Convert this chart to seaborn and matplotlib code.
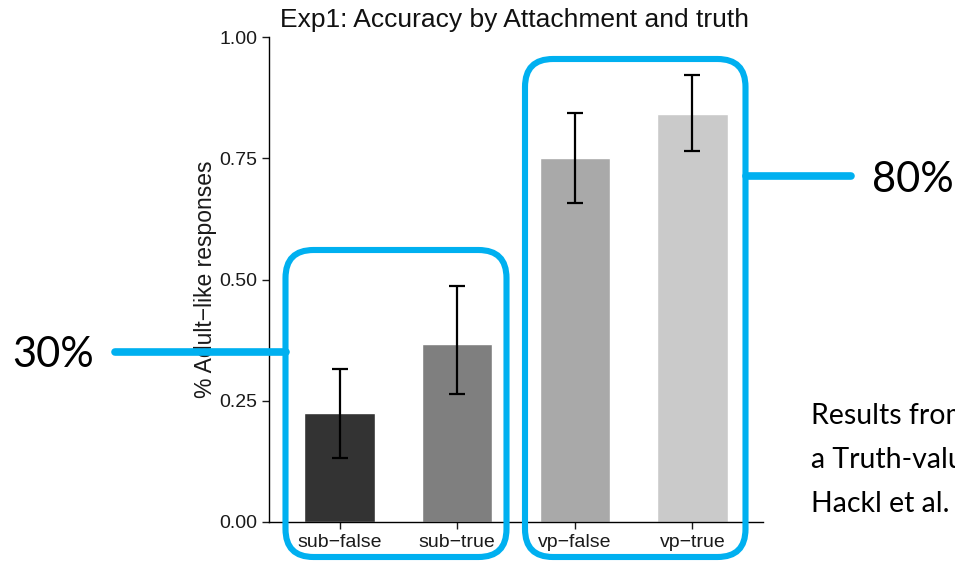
import matplotlib.pyplot as plt
import pandas as pd
import seaborn as sns
from matplotlib.patches import FancyBboxPatch
from matplotlib.lines import Line2D
from matplotlib.transforms import IdentityTransform

# data
conditions = ['sub\u2212false', 'sub\u2212true', 'vp\u2212false', 'vp\u2212true']
accuracy = [0.224, 0.367, 0.750, 0.841]
ci_low = [0.132, 0.263, 0.657, 0.764]
ci_high = [0.315, 0.487, 0.843, 0.922]
bar_colors = ['#333333', '#7f7f7f', '#a9a9a9', '#cacaca']
y_ticks = [0.0, 0.25, 0.5, 0.75, 1.0]
note_lines = ['Results from', 'a Truth-value Judgment Task', 'Hackl et al.']

sns.set_style('ticks')
plt.rcParams['font.family'] = ['Liberation Sans', 'DejaVu Sans']

df = pd.DataFrame({'cond': conditions, 'acc': accuracy, 'lo': ci_low, 'hi': ci_high})

W, H = 955, 562
fig = plt.figure(figsize=(W / 100, H / 100), dpi=100)
ax = fig.add_axes([269 / W, 1 - 522 / H, (763 - 269) / W, (522 - 37) / H])

sns.barplot(data=df, x='cond', y='acc', hue='cond', palette=bar_colors, width=0.6,
            saturation=1, errorbar=None, legend=False, ax=ax)
xpos = range(len(conditions))
ax.errorbar(xpos, df['acc'], yerr=[df['acc'] - df['lo'], df['hi'] - df['acc']],
            fmt='none', ecolor='black', elinewidth=1.6, capsize=5.5, capthick=1.6)

ax.set_xlim(-0.6, 3.6)
ax.set_ylim(0, 1)
ax.set_yticks(y_ticks)
ax.set_yticklabels([f'{t:.2f}' for t in y_ticks])
ax.set_xlabel('')
ax.set_ylabel('% Adult\u2212like responses', fontsize=16.5, color='#1a1a1a')
ax.yaxis.set_label_coords(-0.105, 0.5)
ax.tick_params(labelsize=14, length=5, width=1, colors='#1a1a1a', labelcolor='#1a1a1a')
sns.despine(ax=ax)
for s in ['left', 'bottom']:
    ax.spines[s].set_linewidth(1)
    ax.spines[s].set_color('black')

fig.text(280 / W, 1 - 20 / H, 'Exp1: Accuracy by Attachment and truth',
         fontsize=19, ha='left', va='center', color='#111111')

# slide annotations (pixel coordinates, origin bottom-left)
blue = '#00b0f0'
pix = IdentityTransform()
for left, right, top in [(285.5, 506.5, 250), (525, 745.5, 59)]:
    box = FancyBboxPatch((left, H - 557), right - left, 557 - top,
                         boxstyle='round,pad=0,rounding_size=28',
                         fill=False, edgecolor=blue, linewidth=4.4,
                         transform=pix, zorder=10)
    fig.add_artist(box)

fig.add_artist(Line2D([115, 285.5], [H - 352, H - 352], color=blue, linewidth=5.5,
                      transform=pix, zorder=10))
fig.add_artist(Line2D([745.5, 851], [H - 175.5, H - 175.5], color=blue, linewidth=5.5,
                      transform=pix, zorder=10))

calibri_like = ['Lato', 'DejaVu Sans']
fig.text(12 / W, 1 - 367 / H, '30%', fontsize=30, family=calibri_like,
         ha='left', va='baseline', color='black')
fig.text(872 / W, 1 - 191.5 / H, '80%', fontsize=30, family=calibri_like,
         ha='left', va='baseline', color='black')
for i, line in enumerate(note_lines):
    fig.text(811 / W, 1 - (424 + 44 * i) / H, line, fontsize=20.5, family=calibri_like,
             ha='left', va='baseline', color='black')

fig.savefig('out.png', dpi=100)
